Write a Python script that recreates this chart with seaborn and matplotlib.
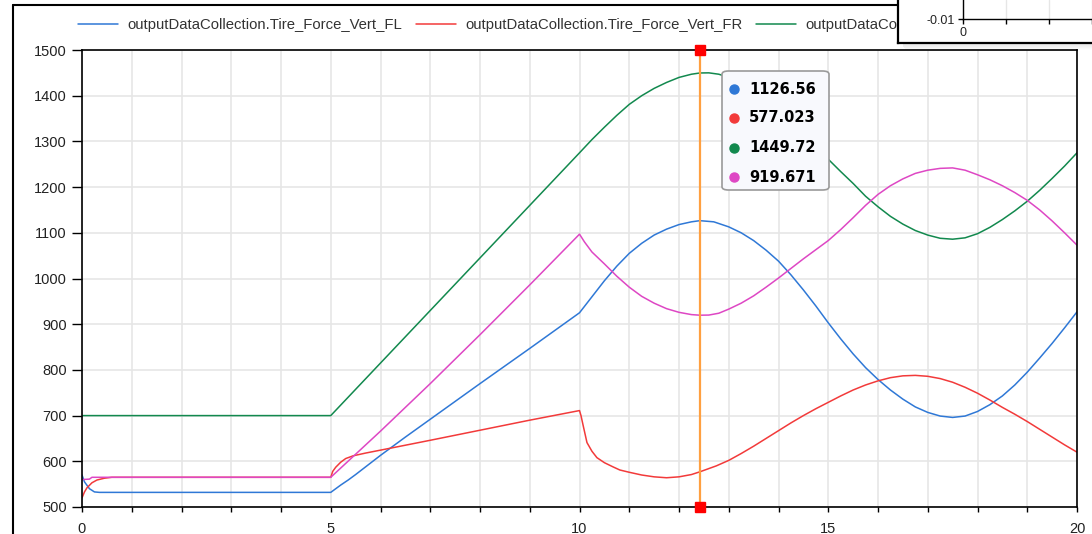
import numpy as np
import pandas as pd
import matplotlib
matplotlib.use("Agg")
import matplotlib.pyplot as plt
import seaborn as sns
from matplotlib.patches import FancyBboxPatch, Rectangle
from matplotlib.lines import Line2D
from matplotlib.transforms import Bbox, TransformedBbox

# ---------------- data ----------------
names = ["outputDataCollection.Tire_Force_Vert_FL",
         "outputDataCollection.Tire_Force_Vert_FR",
         "outputDataCollection.Tire_Force_Vert_RL",
         "outputDataCollection.Tire_Force_Vert_RR"]
colors = ["#2f78d6", "#f23a3a", "#12894e", "#de47c4"]

t_FL = [0, 0.05, 0.15, 0.25, 0.35, 5.0, 5.1, 5.2, 5.35, 5.5, 5.75, 6.0, 6.5, 7.0,
        8.0, 9.0, 10.0, 10.25, 10.5, 10.75, 11.0, 11.25, 11.5, 11.75, 12.0, 12.25,
        12.42, 12.7, 13.0, 13.25, 13.5, 13.75, 14.0, 14.25, 14.5, 14.75, 15.0,
        15.25, 15.5, 15.75, 16.0, 16.25, 16.5, 16.75, 17.0, 17.25, 17.5, 17.75,
        18.0, 18.25, 18.5, 18.75, 19.0, 19.25, 19.5, 19.75, 20.0]
FL = [570, 555, 540, 533, 532, 532, 540, 548, 559, 571, 592, 613, 653, 692,
      770, 847, 925, 960, 995, 1027, 1055, 1077, 1095, 1108, 1118, 1124,
      1126.56, 1124, 1113, 1100, 1083, 1062, 1038, 1008, 975, 940, 903,
      868, 835, 805, 779, 756, 736, 719, 707, 699, 696, 699,
      709, 724, 743, 767, 795, 826, 858, 892, 927]

t_FR = [0, 0.05, 0.1, 0.2, 0.3, 0.45, 0.6, 5.0, 5.04, 5.1, 5.2, 5.3, 5.45, 5.7,
        6.12, 7.0, 8.0, 9.0, 10.0, 10.03, 10.07, 10.15, 10.25, 10.35, 10.5, 10.67,
        10.81, 11.0, 11.25, 11.5, 11.75, 12.0, 12.25, 12.42, 12.75, 13.0, 13.25,
        13.5, 13.75, 14.0, 14.25, 14.5, 14.75, 15.0, 15.25, 15.5, 15.75, 16.0,
        16.25, 16.5, 16.75, 17.0, 17.25, 17.5, 17.75, 18.0, 18.25, 18.5, 18.75,
        19.0, 19.25, 19.5, 19.75, 20.0]
FR = [520, 533, 542, 553, 559, 563, 565, 565, 578, 587, 598, 606, 612, 618,
      627, 646, 668, 690, 711, 700, 680, 641, 622, 608, 597, 588,
      581, 576, 570, 566, 564, 566, 571, 577.023, 590, 602, 617,
      633, 650, 667, 684, 700, 715, 729, 743, 756, 767, 776,
      783, 787, 788, 786, 781, 773, 762, 749, 734, 718, 703,
      687, 670, 653, 636, 620]

t_RL = [0, 5.0, 6.0, 7.0, 8.0, 9.0, 10.0, 10.25, 10.5, 10.75, 11.0, 11.25, 11.5,
        11.75, 12.0, 12.25, 12.42, 12.6, 12.8, 13.0, 13.25, 13.5, 13.75, 14.0,
        14.25, 14.5, 14.75, 15.0, 15.25, 15.5, 15.75, 16.0, 16.25, 16.5, 16.75,
        17.0, 17.25, 17.5, 17.75, 18.0, 18.25, 18.5, 18.75, 19.0, 19.25, 19.5,
        19.75, 20.0]
RL = [700, 700, 815, 930, 1045, 1160, 1275, 1304, 1331, 1357, 1381, 1400, 1416,
      1429, 1440, 1447, 1449.72, 1450, 1447, 1440, 1428, 1412, 1393, 1371,
      1345, 1317, 1289, 1261, 1234, 1208, 1180, 1157, 1136, 1119, 1105,
      1095, 1088, 1086, 1089, 1098, 1112, 1129, 1148, 1169, 1193, 1219,
      1246, 1275]

t_RR = [0, 0.15, 0.2, 5.0, 6.0, 7.0, 8.0, 9.0, 10.0, 10.1, 10.25, 10.5, 10.75,
        11.0, 11.25, 11.5, 11.75, 12.0, 12.25, 12.42, 12.6, 12.8, 13.0, 13.25,
        13.5, 13.75, 14.0, 14.25, 14.5, 14.75, 15.0, 15.25, 15.5, 15.75, 16.0,
        16.25, 16.5, 16.75, 17.0, 17.25, 17.5, 17.75, 18.0, 18.25, 18.5, 18.75,
        19.0, 19.25, 19.5, 19.75, 20.0]
RR = [560, 561, 565, 565, 666, 770, 877, 986, 1097, 1080, 1058, 1032, 1005,
      981, 961, 946, 934, 926, 921, 919.671, 920, 924, 933, 946,
      962, 981, 1001, 1022, 1043, 1063, 1083, 1107, 1133, 1160, 1184,
      1203, 1218, 1230, 1237, 1241, 1242, 1237, 1227, 1216, 1203, 1188,
      1171, 1150, 1126, 1100, 1073]

cursor_t = 12.42
tooltip_labels = ["1126.56", "577.023", "1449.72", "919.671"]

x_ticks = list(range(0, 21))
x_ticklabels = [str(v) if v % 5 == 0 else "" for v in x_ticks]
y_ticks = list(range(500, 1501, 100))

# ---------------- build long table ----------------
frames = []
for nm, tt, vv in zip(names, [t_FL, t_FR, t_RL, t_RR], [FL, FR, RL, RR]):
    frames.append(pd.DataFrame({"t": tt, "value": vv, "series": nm}))
df = pd.concat(frames, ignore_index=True)

sns.set_style("white")
plt.rcParams["font.family"] = ["Liberation Sans", "DejaVu Sans"]

W, H = 1092, 534
fig = plt.figure(figsize=(W / 100, H / 100), dpi=100)
fig.patch.set_facecolor("white")
ax = fig.add_axes([82 / W, 1 - 507 / H, 995 / W, 457 / H])

sns.lineplot(data=df, x="t", y="value", hue="series", hue_order=names,
             palette=colors, estimator=None, sort=False, linewidth=1.1,
             legend=False, ax=ax)

ax.set_xlim(0, 20)
ax.set_ylim(500, 1500)
ax.set_xticks(x_ticks)
ax.set_xticklabels(x_ticklabels)
ax.set_yticks(y_ticks)
ax.set_xlabel("")
ax.set_ylabel("")
ax.grid(True, color="#e6e6e6", lw=1.2)
ax.set_axisbelow(True)
for s in ax.spines.values():
    s.set_color("black")
    s.set_linewidth(1.2)
ax.tick_params(axis="y", length=7.2, width=1, pad=3.6, direction="out",
               labelsize=10.5, colors="black", labelcolor="#222222", left=True)
ax.tick_params(axis="x", length=3.6, width=1, pad=7.2, direction="out",
               labelsize=10.5, colors="black", labelcolor="#222222", bottom=True)

# legend (the fourth entry is hidden under the inset window in the reference)
handles = ax.get_lines()[:3]
leg = ax.legend(handles, names[:3], loc="center left", ncol=3,
                bbox_to_anchor=(78 / W, 1 - 25 / H), bbox_transform=fig.transFigure,
                frameon=False, borderpad=0, borderaxespad=0, fontsize=10.7,
                handlelength=2.7, handletextpad=0.6, columnspacing=0.95)
clip = TransformedBbox(Bbox([[0, 0], [897 / W, 1]]), fig.transFigure)
for txt in leg.get_texts():
    txt.set_color("#333333")
    txt.set_clip_box(clip)
    txt.set_clip_on(True)

# cursor
ax.axvline(cursor_t, color="#ffa040", lw=1.6, zorder=4)
ax.plot([cursor_t, cursor_t], [1500, 500], "s", color="#ff0000", ms=7,
        clip_on=False, zorder=7)

# tooltip
bx0, by0, bx1, by1 = 722, 71, 829, 190
box = FancyBboxPatch((bx0 / W, 1 - by1 / H), (bx1 - bx0) / W, (by1 - by0) / H,
                     boxstyle="round,pad=0,rounding_size=0.006",
                     transform=fig.transFigure, facecolor="#f8f9fd",
                     edgecolor="#9a9a9a", lw=1.2, zorder=20)
fig.add_artist(box)
rows_y = [89, 118, 148, 177]
for ry, col, lab in zip(rows_y, colors, tooltip_labels):
    fig.add_artist(Line2D([734 / W], [1 - ry / H], marker="o", ms=6.5,
                          color=col, transform=fig.transFigure, zorder=21))
    fig.text(749 / W, 1 - ry / H, lab, ha="left", va="center",
             fontsize=10.5, fontweight="bold", family="DejaVu Sans",
             color="black", zorder=21)

# outer window frame
fig.add_artist(Line2D([13 / W, 13 / W], [0, 1 - 5 / H], color="black", lw=1.5,
                      transform=fig.transFigure))
fig.add_artist(Line2D([13 / W, 898 / W], [1 - 5 / H, 1 - 5 / H], color="black",
                      lw=1.5, transform=fig.transFigure))

# inset shadow
for i in range(7):
    fig.add_artist(Rectangle(((902 + i * 0.5) / W, 1 - (44 + i) / H), (W - 902) / W, 1 / H,
                             transform=fig.transFigure, facecolor="black",
                             alpha=0.10 * (1 - i / 7), edgecolor="none", zorder=9))

ax_box = fig.add_axes([898 / W, 1 - 43 / H, 194 / W, 43 / H])
ax_box.set_zorder(10)
ax_box.set_facecolor("white")
ax_box.set_xticks([])
ax_box.set_yticks([])
for k in ["top", "right"]:
    ax_box.spines[k].set_visible(False)
for k in ["left", "bottom"]:
    ax_box.spines[k].set_color("black")
    ax_box.spines[k].set_linewidth(1.6)

ax2 = fig.add_axes([963 / W, 1 - 19 / H, 129 / W, 19 / H])
ax2.set_zorder(11)
ax2.patch.set_alpha(0)
ax2.set_xlim(0, 3)
ax2.set_ylim(-0.01, 0.0)
ax2.set_xticks([0, 1, 2, 3])
ax2.set_xticklabels(["0", "", "", ""])
ax2.set_yticks([-0.01])
ax2.set_yticklabels(["-0.01"])
ax2.grid(True, axis="x", color="#e6e6e6", lw=1.0)
ax2.set_axisbelow(True)
for k in ["top", "right"]:
    ax2.spines[k].set_visible(False)
for k in ["left", "bottom"]:
    ax2.spines[k].set_color("black")
    ax2.spines[k].set_linewidth(1.0)
ax2.tick_params(axis="both", length=3.5, width=1, labelsize=9, colors="black",
                labelcolor="#222222", pad=2, left=True, bottom=True)

fig.savefig("out.png", dpi=100)
